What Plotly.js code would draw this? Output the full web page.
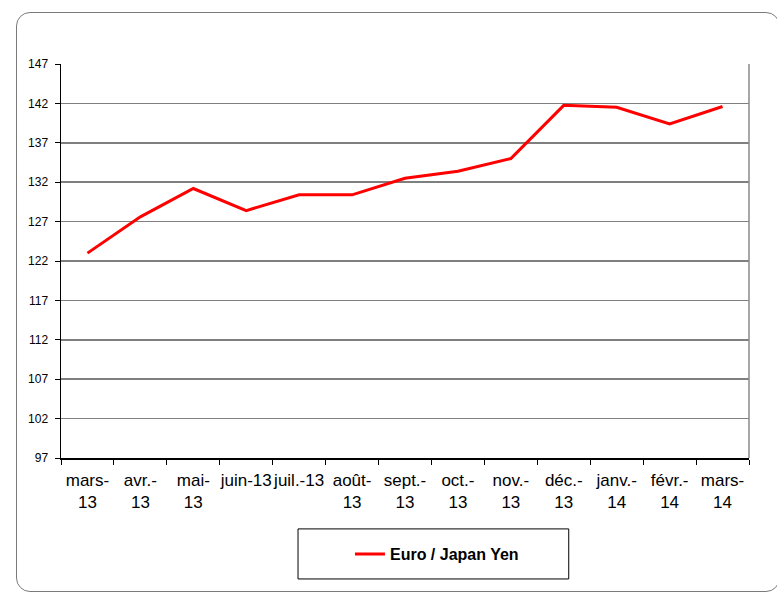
<!DOCTYPE html>
<html>
<head>
<meta charset="utf-8">
<script src="https://cdn.plot.ly/plotly-3.0.1.min.js"></script>
<style>
  html, body { margin: 0; padding: 0; background: #ffffff; }
  #wrap { position: relative; width: 777px; height: 592px; overflow: hidden; }
  #frame { position: absolute; left: 16px; top: 12px; width: 764px; height: 580px;
           border: 1.5px solid #7a7a7a; border-radius: 14px; box-sizing: border-box; }
  #chart { position: absolute; left: 0; top: 0; width: 777px; height: 592px; }
</style>
</head>
<body>
<div id="wrap">
  <div id="frame"></div>
  <div id="chart"></div>
</div>
<script>
const categories = ["mars-13","avr.-13","mai-13","juin-13","juil.-13","août-13","sept.-13","oct.-13","nov.-13","déc.-13","janv.-14","févr.-14","mars-14"];
const tickLabels = ["mars-<br>13","avr.-<br>13","mai-<br>13","juin-13","juil.-13","août-<br>13","sept.-<br>13","oct.-<br>13","nov.-<br>13","déc.-<br>13","janv.-<br>14","févr.-<br>14","mars-<br>14"];
const euroJpy = [123.0, 127.6, 131.2, 128.4, 130.4, 130.4, 132.5, 133.4, 135.0, 141.75, 141.5, 139.4, 141.6];
const yTicks = [97, 102, 107, 112, 117, 122, 127, 132, 137, 142, 147];

const trace = {
  x: categories,
  y: euroJpy,
  type: "scatter",
  mode: "lines",
  name: "Euro / Japan Yen",
  line: { color: "#ff0000", width: 3 }
};

const layout = {
  width: 777, height: 592,
  margin: { l: 61, r: 28, t: 64, b: 134 },
  paper_bgcolor: "rgba(0,0,0,0)",
  plot_bgcolor: "#ffffff",
  font: { family: "Liberation Sans, Arial, sans-serif", color: "#000000" },
  showlegend: true,
  legend: {
    x: 0.42, y: -0.244, xanchor: "left", yanchor: "middle",
    bgcolor: "rgba(0,0,0,0)", borderwidth: 0,
    font: { family: "Liberation Sans, Arial, sans-serif", size: 16, color: "#000000", weight: "bold" }
  },
  xaxis: {
    type: "category",
    tickmode: "array",
    tickvals: categories,
    ticktext: tickLabels,
    tickson: "boundaries",
    ticks: "outside", ticklen: 5, tickcolor: "#000000", tickwidth: 1,
    tickangle: 0,
    tickfont: { size: 17, color: "#000000" },
    ticklabelstandoff: 6,
    showline: true, linecolor: "#000000", linewidth: 1.5,
    showgrid: false, zeroline: false,
    range: [-0.5, 12.5],
    fixedrange: true
  },
  yaxis: {
    range: [97, 147],
    tickmode: "array",
    tickvals: yTicks,
    ticktext: yTicks.map(String),
    ticks: "outside", ticklen: 5, tickcolor: "#000000", tickwidth: 1,
    tickfont: { size: 12, color: "#000000" },
    ticklabelstandoff: 4,
    showline: true, linecolor: "#000000", linewidth: 1.5,
    showgrid: true, gridcolor: "#7f7f7f", gridwidth: 1.5,
    zeroline: false,
    fixedrange: true
  },
  shapes: [
    { type: "line", xref: "paper", yref: "paper", x0: 1, x1: 1, y0: 0, y1: 1,
      line: { color: "#8a8a8a", width: 1.5 } },
    { type: "rect", xref: "paper", yref: "paper",
      x0: 0.3445, x1: 0.738, y0: -0.180, y1: -0.307,
      line: { color: "#000000", width: 1 }, fillcolor: "rgba(0,0,0,0)" }
  ]
};

Plotly.newPlot("chart", [trace], layout, { displayModeBar: false, staticPlot: true });
</script>
</body>
</html>
